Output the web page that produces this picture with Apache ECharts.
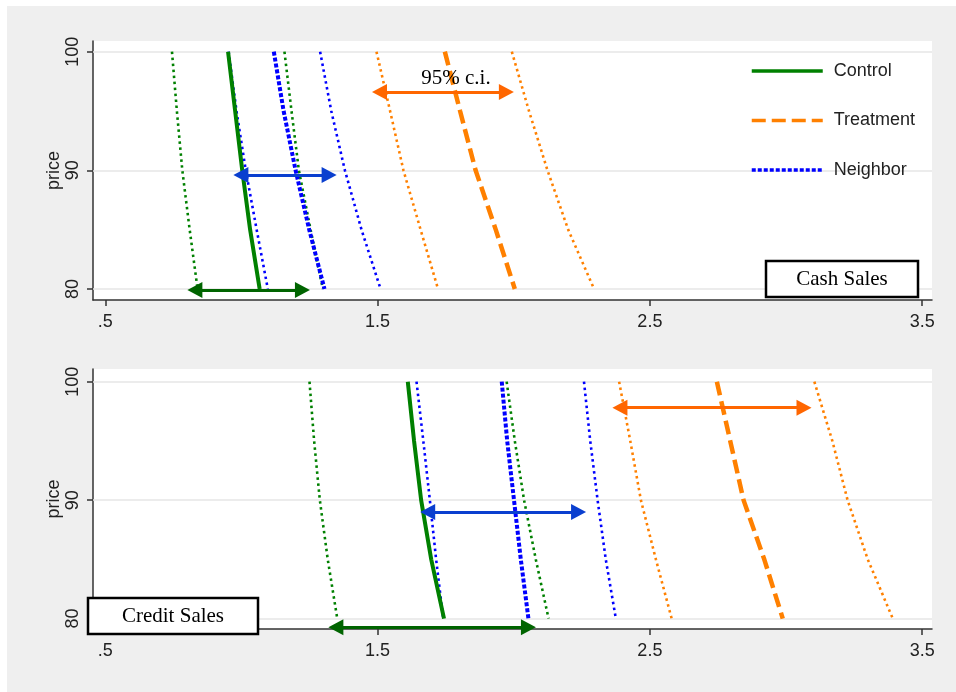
<!DOCTYPE html>
<html><head><meta charset="utf-8">
<script src="https://cdn.jsdelivr.net/npm/echarts@6/dist/echarts.min.js"></script>
<style>
html,body{margin:0;padding:0;background:#fff;}
#chart{width:956px;height:692px;background:#efefef;box-shadow:inset 7px 6px 0 #fff;}
</style></head><body><div id="chart"></div>
<script>
// ---------- data ----------
const prices = [100, 95, 90, 85, 80];
const xTicks = [0.5, 1.5, 2.5, 3.5];
const xTickLabels = ['.5', '1.5', '2.5', '3.5'];
const yTicks = [80, 90, 100];
const legendNames = ['Control', 'Treatment', 'Neighbor'];

// Cash Sales panel (x values at prices 100,95,90,85,80)
const cashControl     = [0.951, 0.977, 1.003, 1.032, 1.067];
const cashControlLo   = [0.745, 0.763, 0.783, 0.810, 0.839];
const cashControlHi   = [1.158, 1.184, 1.211, 1.254, 1.299];
const cashTreatment   = [1.747, 1.803, 1.860, 1.934, 2.004];
const cashTreatmentLo = [1.496, 1.546, 1.595, 1.658, 1.722];
const cashTreatmentHi = [1.993, 2.056, 2.124, 2.200, 2.295];
const cashNeighbor    = [1.119, 1.155, 1.199, 1.249, 1.305];
const cashNeighborLo  = [0.953, 0.982, 1.016, 1.056, 1.097];
const cashNeighborHi  = [1.289, 1.330, 1.380, 1.441, 1.511];

// Credit Sales panel
const creditControl     = [1.611, 1.634, 1.660, 1.697, 1.744];
const creditControlLo   = [1.250, 1.267, 1.288, 1.317, 1.352];
const creditControlHi   = [1.974, 2.004, 2.038, 2.081, 2.128];
const creditTreatment   = [2.746, 2.795, 2.844, 2.920, 2.988];
const creditTreatmentLo = [2.387, 2.428, 2.467, 2.522, 2.580];
const creditTreatmentHi = [3.104, 3.170, 3.226, 3.300, 3.392];
const creditNeighbor    = [1.956, 1.976, 2.001, 2.026, 2.054];
const creditNeighborLo  = [1.643, 1.668, 1.692, 1.715, 1.741];
const creditNeighborHi  = [2.258, 2.281, 2.308, 2.338, 2.375];

// arrows: [x start, x end, price]
const cashArrowTreat   = [1.507, 1.973, 96.6];
const cashArrowNeigh   = [0.998, 1.322, 89.6];
const cashArrowCtrl    = [0.829, 1.224, 79.92];
const creditArrowTreat = [2.390, 3.066, 97.8];
const creditArrowNeigh = [1.684, 2.238, 89.0];
const creditArrowCtrl  = [1.347, 2.054, 79.27];

// ---------- styles ----------
const GREEN = '#008000', ORANGE = '#ff8000', BLUE = '#0000ff';
const FONT = 'Liberation Sans';
const styleCtrl  = {color: GREEN, width: 4, type: 'solid'};
const styleTreat = {color: ORANGE, width: 4.5, type: [14, 6]};
const styleNeigh = {color: BLUE, width: 4, type: [4, 2]};
const ci = c => ({color: c, width: 2.6, type: [2.5, 3.5]});

function line(name, xs, g, style) {
  return {
    type: 'line', name, xAxisIndex: g, yAxisIndex: g,
    data: xs.map((x, i) => [x, prices[i]]),
    symbol: 'none', smooth: false, lineStyle: style, itemStyle: {color: style.color},
    z: 3, silent: true, animation: false
  };
}
function gridLines(g) {
  return {
    type: 'line', name: 'grid' + g, xAxisIndex: g, yAxisIndex: g, data: [], silent: true,
    markLine: {
      silent: true, z: 1, symbol: ['none', 'none'], label: {show: false}, animation: false,
      lineStyle: {color: '#e6e6e6', width: 1.5, type: 'solid'},
      emphasis: {disabled: true},
      data: yTicks.map(v => ({yAxis: v}))
    }
  };
}
function arrow(a, g, color) {
  return {
    type: 'line', name: 'arrow', xAxisIndex: g, yAxisIndex: g, data: [], silent: true,
    markLine: {
      silent: true, z: 6, symbol: ['triangle', 'triangle'], symbolSize: [16, 15],
      label: {show: false}, animation: false, emphasis: {disabled: true},
      lineStyle: {color, width: 3, type: 'solid'},
      itemStyle: {color},
      data: [[{coord: [a[0], a[2]]}, {coord: [a[1], a[2]]}]]
    }
  };
}
function xAxis(g) {
  return {
    gridIndex: g, type: 'value', min: 0.455, max: 3.536,
    axisLine: {show: true, onZero: false, lineStyle: {color: '#333', width: 1.5}},
    axisTick: {show: true, customValues: xTicks, length: 6, lineStyle: {color: '#333', width: 1.5}},
    axisLabel: {customValues: xTicks, formatter: v => xTickLabels[xTicks.indexOf(v)],
      fontSize: 18, color: '#222', fontFamily: FONT, margin: 13},
    splitLine: {show: false}
  };
}
function yAxis(g, min, max) {
  return {
    gridIndex: g, type: 'value', min, max,
    axisLine: {show: true, onZero: false, lineStyle: {color: '#333', width: 1.5}},
    axisTick: {show: true, customValues: yTicks, length: 6, lineStyle: {color: '#333', width: 1.5}},
    axisLabel: {customValues: yTicks, rotate: 90, fontSize: 18, color: '#222', fontFamily: FONT, margin: 11},
    splitLine: {show: false},
    name: 'price', nameLocation: 'middle', nameRotate: 90, nameGap: 30, nameMoveOverlap: false,
    nameTextStyle: {fontSize: 18, color: '#222', fontFamily: FONT}
  };
}

const series = [
  gridLines(0), gridLines(1),
  line('Control CI lo', cashControlLo, 0, ci(GREEN)),
  line('Control CI hi', cashControlHi, 0, ci(GREEN)),
  line('Treatment CI lo', cashTreatmentLo, 0, ci(ORANGE)),
  line('Treatment CI hi', cashTreatmentHi, 0, ci(ORANGE)),
  line('Neighbor CI lo', cashNeighborLo, 0, ci(BLUE)),
  line('Neighbor CI hi', cashNeighborHi, 0, ci(BLUE)),
  line('Control', cashControl, 0, styleCtrl),
  line('Treatment', cashTreatment, 0, styleTreat),
  line('Neighbor', cashNeighbor, 0, styleNeigh),
  line('Control CI lo', creditControlLo, 1, ci(GREEN)),
  line('Control CI hi', creditControlHi, 1, ci(GREEN)),
  line('Treatment CI lo', creditTreatmentLo, 1, ci(ORANGE)),
  line('Treatment CI hi', creditTreatmentHi, 1, ci(ORANGE)),
  line('Neighbor CI lo', creditNeighborLo, 1, ci(BLUE)),
  line('Neighbor CI hi', creditNeighborHi, 1, ci(BLUE)),
  line('Control', creditControl, 1, styleCtrl),
  line('Treatment', creditTreatment, 1, styleTreat),
  line('Neighbor', creditNeighbor, 1, styleNeigh),
  arrow(cashArrowTreat, 0, '#ff6600'),
  arrow(cashArrowNeigh, 0, '#0a3fcf'),
  arrow(cashArrowCtrl, 0, '#006400'),
  arrow(creditArrowTreat, 1, '#ff6600'),
  arrow(creditArrowNeigh, 1, '#0a3fcf'),
  arrow(creditArrowCtrl, 1, '#006400')
];

const chart = echarts.init(document.getElementById('chart'), null, {renderer: 'canvas'});
chart.setOption({
  animation: false,
  grid: [
    {left: 93, top: 41, width: 839, height: 259, show: true, backgroundColor: '#fff', borderWidth: 0},
    {left: 93, top: 369, width: 839, height: 260, show: true, backgroundColor: '#fff', borderWidth: 0}
  ],
  xAxis: [xAxis(0), xAxis(1)],
  yAxis: [yAxis(0, 79.07, 100.9), yAxis(1, 79.12, 101.07)],
  legend: {
    left: 745, top: 57, orient: 'vertical', itemWidth: 71, itemHeight: 18, itemGap: 31.5,
    data: legendNames, selectedMode: false,
    textStyle: {fontSize: 18, color: '#222', fontFamily: FONT, padding: [0, 0, 0, 6]},
    lineStyle: {width: 3.5},
    itemStyle: {opacity: 0}
  },
  graphic: [
    {type: 'text', z: 100, x: 456, y: 78,
     style: {text: '95% c.i.', font: '21px "Liberation Serif"', fill: '#000', align: 'center', verticalAlign: 'middle'}},
    {type: 'rect', z: 100, shape: {x: 766, y: 261, width: 152, height: 36},
     style: {fill: '#fff', stroke: '#000', lineWidth: 2.5}},
    {type: 'text', z: 101, x: 842, y: 279,
     style: {text: 'Cash Sales', font: '21px "Liberation Serif"', fill: '#000', align: 'center', verticalAlign: 'middle'}},
    {type: 'rect', z: 100, shape: {x: 88, y: 598, width: 170, height: 36},
     style: {fill: '#fff', stroke: '#000', lineWidth: 2.5}},
    {type: 'text', z: 101, x: 173, y: 616,
     style: {text: 'Credit Sales', font: '21px "Liberation Serif"', fill: '#000', align: 'center', verticalAlign: 'middle'}}
  ],
  series
});
</script></body></html>
